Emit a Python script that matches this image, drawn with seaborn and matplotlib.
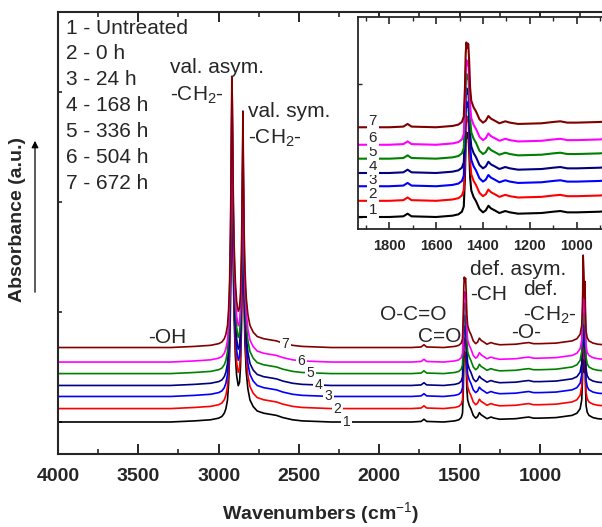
import numpy as np
import pandas as pd
import matplotlib
matplotlib.use("Agg")
import matplotlib.pyplot as plt
import seaborn as sns
from matplotlib.ticker import MultipleLocator, NullFormatter
from matplotlib.patches import FancyArrowPatch

# ---------------- data ----------------
sample_labels = ["1 - Untreated", "2 - 0 h", "3 - 24 h", "4 - 168 h",
                 "5 - 336 h", "6 - 504 h", "7 - 672 h"]
curve_numbers = ["1", "2", "3", "4", "5", "6", "7"]
colors = ["#000000", "#FF0000", "#0000FF", "#000080", "#008000", "#FF00FF", "#800000"]
offsets = [0.0, 0.122, 0.232, 0.332, 0.44, 0.545, 0.677]

wavenumber = [4000, 3600, 3300, 3150, 3050, 3000, 2980, 2965, 2955, 2945, 2938,
              2932, 2927, 2922, 2918, 2914, 2910, 2904, 2896, 2888, 2878, 2870,
              2864, 2858, 2853, 2849, 2846, 2842, 2836, 2828, 2818, 2805, 2785,
              2760, 2720, 2680, 2640, 2600, 2540, 2480, 2300, 2000, 1800, 1740,
              1722, 1705, 1600, 1530, 1505, 1490, 1482, 1477, 1474, 1471, 1467,
              1463, 1459, 1455, 1450, 1440, 1430, 1415, 1400, 1388, 1377, 1366,
              1350, 1330, 1305, 1285, 1250, 1150, 1100, 1070, 1040, 1000, 900,
              800, 770, 750, 740, 735, 731, 727, 723, 720, 717, 713, 706, 695,
              670, 640, 600, 560]
absorbance_untreated = [0.0, 0.0, 0.0, 0.01, 0.02, 0.035, 0.05, 0.08, 0.12, 0.2, 0.35,
                        0.6, 1.0, 1.7, 2.46, 2.2, 1.5, 0.95, 0.6, 0.42, 0.33, 0.36,
                        0.5, 0.85, 1.5, 2.15, 1.7, 1.1, 0.7, 0.45, 0.3, 0.2, 0.14,
                        0.1, 0.08, 0.07, 0.06, 0.04, 0.02, 0.01, 0.0, 0.0, 0.0, 0.005,
                        0.025, 0.005, 0.0, 0.01, 0.02, 0.04, 0.08, 0.3, 0.55, 0.64, 0.6,
                        0.63, 0.5, 0.3, 0.2, 0.15, 0.12, 0.06, 0.035, 0.05, 0.085, 0.065,
                        0.05, 0.03, 0.045, 0.035, 0.025, 0.03, 0.04, 0.045, 0.035, 0.035, 0.04,
                        0.06, 0.08, 0.12, 0.2, 0.4, 0.84, 0.7, 0.45, 0.6, 0.35, 0.15, 0.09, 0.06,
                        0.04, 0.03, 0.025, 0.02]

main_label_wn = [2205, 2261, 2317, 2379, 2429, 2484, 2584]
inset_label_wn = 1870

rows = []
for num, off in zip(curve_numbers, offsets):
    for w, a in zip(wavenumber, absorbance_untreated):
        rows.append({"wavenumber": w, "absorbance": a + off, "sample": num})
df = pd.DataFrame(rows)

# ---------------- style ----------------
sns.set_theme(style="ticks")
plt.rcParams["font.family"] = ["Liberation Sans", "DejaVu Sans"]
plt.rcParams["mathtext.fontset"] = "custom"
plt.rcParams["mathtext.rm"] = "Liberation Sans"
plt.rcParams["mathtext.it"] = "Liberation Sans:italic"
plt.rcParams["mathtext.bf"] = "Liberation Sans:bold"

W, H = 602, 527
fig = plt.figure(figsize=(W / 100, H / 100), dpi=100)
fig.patch.set_facecolor("white")

# main axes: left 58 px, right 610 px, top 12 px, bottom 454 px
ax = fig.add_axes([58 / W, (H - 454) / H, 552 / W, 442 / H])
sns.lineplot(data=df, x="wavenumber", y="absorbance", hue="sample",
             hue_order=curve_numbers, palette=colors, sort=False,
             estimator=None, legend=False, linewidth=1.2, ax=ax)
ax.set_xlim(4000, 564)
ax.set_ylim(-0.291, 3.727)
ax.xaxis.set_major_locator(MultipleLocator(500))
ax.xaxis.set_minor_locator(MultipleLocator(250))
ax.yaxis.set_major_locator(MultipleLocator(1))
ax.yaxis.set_major_formatter(NullFormatter())
ax.tick_params(axis="x", which="major", direction="in", length=7, width=1.4,
               top=True, labelsize=14, pad=10)
ax.tick_params(axis="x", which="minor", direction="in", length=3.5, width=1.2, top=True)
ax.tick_params(axis="y", which="major", direction="in", length=3, width=1.2)
for lab in ax.get_xticklabels():
    lab.set_fontweight("bold")
for s in ax.spines.values():
    s.set_linewidth(1.5)
ax.spines["right"].set_visible(False)
ax.set_xlabel("Wavenumbers (cm$^{-1}$)", fontsize=14, fontweight="bold")
ax.xaxis.set_label_coords((321 - 58) / 552, (454 - 500) / 442)
ax.set_ylabel("Absorbance (a.u.)", fontsize=14, fontweight="bold")
ax.yaxis.set_label_coords((26 - 58) / 552, (454 - 219) / 442)

# arrow beside y label
fig.add_artist(FancyArrowPatch((35 / W, 1 - 295 / H), (35 / W, 1 - 138 / H),
                               transform=fig.transFigure, arrowstyle="-|>",
                               mutation_scale=10, lw=0.9, color="black"))

# curve numbers on main plot
rev_w = wavenumber[::-1]
rev_a = absorbance_untreated[::-1]
for num, off, w in zip(curve_numbers, offsets, main_label_wn):
    yv = off + np.interp(w, rev_w, rev_a)
    ax.text(w, yv, num, fontsize=10, ha="center", va="center", zorder=5,
            bbox=dict(boxstyle="square,pad=0.12", fc="white", ec="none"))

# sample legend (plain text)
for i, lab in enumerate(sample_labels):
    fig.text(66 / W, 1 - (28 + 25.9 * i) / H, lab, fontsize=15, ha="left", va="center")

# band annotations (data coords)
def px2d(px, py):
    return 4000 - (px - 58) / 0.16067, (422 - py) / 110.0

annots = [
    ("val. asym.", 170, 68), ("-CH$_2$-", 170, 95),
    ("val. sym.", 248, 112), ("-CH$_2$-", 248, 138),
    ("-OH", 148, 338),
    ("O-C=O", 380, 315), ("C=O", 418, 337),
    ("def. asym.", 470, 270), ("-CH", 470, 295),
    ("def.", 523, 290), ("-CH$_2$-", 523, 315),
    ("-O-", 511, 333),
]
for txt, px, py in annots:
    xd, yd = px2d(px, py)
    ax.text(xd, yd, txt, fontsize=15, ha="left", va="center", zorder=6)

# ---------------- inset ----------------
axi = fig.add_axes([358 / W, (H - 229) / H, 252 / W, 212 / H])
axi.set_facecolor("white")
sns.lineplot(data=df, x="wavenumber", y="absorbance", hue="sample",
             hue_order=curve_numbers, palette=colors, sort=False,
             estimator=None, legend=False, linewidth=1.5, ax=axi)
axi.set_xlim(1933.6, 857.8)
axi.set_ylim(-0.0906, 1.509)
axi.set_xlabel("")
axi.set_ylabel("")
axi.xaxis.set_major_locator(MultipleLocator(200))
axi.xaxis.set_minor_locator(MultipleLocator(100))
axi.yaxis.set_major_locator(MultipleLocator(1))
axi.yaxis.set_major_formatter(NullFormatter())
axi.tick_params(axis="x", which="major", direction="in", length=5, width=1.2,
                top=True, labelsize=10.5, pad=7)
axi.tick_params(axis="x", which="minor", direction="in", length=3, width=1.0, top=True)
axi.tick_params(axis="y", which="major", direction="in", length=3, width=1.0)
for lab in axi.get_xticklabels():
    lab.set_fontweight("bold")
for s in axi.spines.values():
    s.set_linewidth(1.3)
axi.spines["right"].set_visible(False)
for num, off in zip(curve_numbers, offsets):
    axi.text(inset_label_wn, off + 0.05, num, fontsize=11, ha="center", va="center",
             zorder=5, bbox=dict(boxstyle="square,pad=0.1", fc="white", ec="none"))

fig.savefig("out.png", dpi=100, facecolor="white")
